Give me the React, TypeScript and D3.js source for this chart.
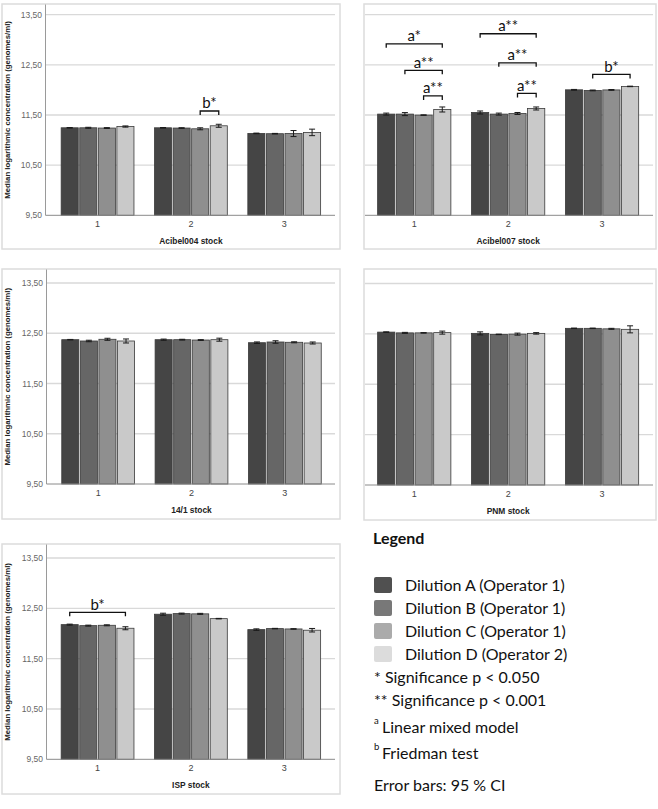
import React from 'react';
import * as d3 from 'd3';

// stocks, dilution series and values (log genomes/ml)
const groups = ['1', '2', '3'];
const seriesNames = [
  'Dilution A (Operator 1)',
  'Dilution B (Operator 1)',
  'Dilution C (Operator 1)',
  'Dilution D (Operator 2)',
];
const yTicks = [9.5, 10.5, 11.5, 12.5, 13.5];

const acibel004Values = [
  [11.245, 11.245, 11.24, 11.27],
  [11.245, 11.24, 11.225, 11.285],
  [11.133, 11.127, 11.13, 11.153],
];
const acibel004Errors = [
  [0.005, 0.01, 0.008, 0.012],
  [0.005, 0.006, 0.02, 0.03],
  [0.006, 0.006, 0.06, 0.065],
];
const acibel007Values = [
  [11.518, 11.518, 11.498, 11.61],
  [11.55, 11.518, 11.53, 11.63],
  [12.002, 11.99, 12.0, 12.07],
];
const acibel007Errors = [
  [0.02, 0.03, 0.005, 0.05],
  [0.03, 0.02, 0.02, 0.03],
  [0.008, 0.008, 0.008, 0.005],
];
const stock141Values = [
  [12.372, 12.346, 12.38, 12.346],
  [12.372, 12.372, 12.365, 12.372],
  [12.312, 12.326, 12.32, 12.306],
];
const stock141Errors = [
  [0.005, 0.015, 0.02, 0.04],
  [0.012, 0.008, 0.008, 0.03],
  [0.015, 0.025, 0.01, 0.02],
];
const pnmValues = [
  [12.535, 12.52, 12.52, 12.525],
  [12.51, 12.49, 12.495, 12.51],
  [12.61, 12.61, 12.6, 12.59],
];
const pnmErrors = [
  [0.005, 0.01, 0.005, 0.03],
  [0.03, 0.005, 0.02, 0.015],
  [0.005, 0.005, 0.01, 0.07],
];
const ispValues = [
  [12.176, 12.156, 12.163, 12.104],
  [12.383, 12.395, 12.39, 12.295],
  [12.077, 12.097, 12.09, 12.065],
];
const ispErrors = [
  [0.01, 0.01, 0.01, 0.03],
  [0.02, 0.01, 0.01, 0.005],
  [0.015, 0.005, 0.005, 0.035],
];

// significance brackets: group, first and last dilution, level (data units), label
const acibel004Brackets = [{ group: 1, from: 2, to: 3, level: 11.58, label: 'b*' }];
const acibel007Brackets = [
  { group: 0, from: 0, to: 3, level: 12.92, label: 'a*' },
  { group: 0, from: 1, to: 3, level: 12.39, label: 'a**' },
  { group: 0, from: 2, to: 3, level: 11.88, label: 'a**' },
  { group: 1, from: 0, to: 3, level: 13.12, label: 'a**' },
  { group: 1, from: 1, to: 3, level: 12.54, label: 'a**' },
  { group: 1, from: 2, to: 3, level: 11.93, label: 'a**' },
  { group: 2, from: 1, to: 3, level: 12.31, label: 'b*' },
];
const ispBrackets = [{ group: 0, from: 0, to: 3, level: 12.42, label: 'b*' }];

const barColors = ['#454545', '#666666', '#8f8f8f', '#c9c9c9'];
const swatchColors = ['#505050', '#787878', '#ababab', '#dcdcdc'];

const chartFont = '"Liberation Sans", Arial, sans-serif';
const noteFont = 'Lato, "Open Sans", sans-serif';

type Bracket = { group: number; from: number; to: number; level: number; label: string };

type PanelProps = {
  title: string;
  values: number[][];
  errors: number[][];
  brackets: Bracket[];
  frame: [number, number, number, number];
  axisX: number;
  plotRight: number;
  band: [number, number];
  yRange: [number, number]; // pixel of 9.5 and 13.5
  showYAxis: boolean;
};

const Panel = ({ title, values, errors, brackets, frame, axisX, plotRight, band, yRange, showYAxis }: PanelProps) => {
  const [fx0, fy0, fx1, fy1] = frame;
  const y = d3.scaleLinear().domain([9.5, 13.5]).range(yRange);
  const x = d3.scaleBand().domain(groups).range(band).paddingInner(0.22).paddingOuter(0.11);
  const xs = d3.scaleBand().domain(seriesNames).range([0, x.bandwidth()]).paddingInner(0.08);
  const base = y(9.5);
  const top = fy0 + 0.5;
  const barX = (g: number, s: number) => (x(groups[g]) as number) + (xs(seriesNames[s]) as number);
  const barMid = (g: number, s: number) => barX(g, s) + xs.bandwidth() / 2;

  return (
    <g>
      <rect x={fx0} y={fy0} width={fx1 - fx0} height={fy1 - fy0} fill="#fff" stroke="#dcdcdc" strokeWidth={1.5} />
      {yTicks.slice(1).map(t => (
        <line key={t} x1={showYAxis ? axisX : fx0 + 1} x2={plotRight} y1={y(t)} y2={y(t)} stroke="#d9d9d9" strokeWidth={1.3} />
      ))}
      {showYAxis && (
        <g>
          <line x1={axisX} x2={axisX} y1={top} y2={base} stroke="#9a9a9a" strokeWidth={1} />
          {yTicks.map(t => (
            <text key={t} x={axisX - 3.5} y={y(t) + 3} textAnchor="end" fontFamily={chartFont} fontSize={8.5} fill="#666">
              {d3.format('.2f')(t).replace('.', ',')}
            </text>
          ))}
          <text
            transform={`translate(${fx0 + 7.5},${(top + base) / 2}) rotate(-90)`}
            textAnchor="middle"
            fontFamily={chartFont}
            fontSize={7.8}
            fontWeight="bold"
            fill="#222"
          >
            Median logarithmic concentration (genomes/ml)
          </text>
        </g>
      )}
      {values.map((row, g) =>
        row.map((v, s) => (
          <rect
            key={`${g}-${s}`}
            x={barX(g, s)}
            y={y(v)}
            width={xs.bandwidth()}
            height={base - y(v)}
            fill={barColors[s]}
            stroke="#3a3a3a"
            strokeWidth={0.8}
          />
        ))
      )}
      {errors.map((row, g) =>
        row.map((e, s) => {
          const cx = barMid(g, s);
          const v = values[g][s];
          return (
            <g key={`e${g}-${s}`} stroke="#1a1a1a" strokeWidth={1}>
              <line x1={cx} x2={cx} y1={y(v + e)} y2={y(v - e)} />
              <line x1={cx - 3} x2={cx + 3} y1={y(v + e)} y2={y(v + e)} />
              <line x1={cx - 3} x2={cx + 3} y1={y(v - e)} y2={y(v - e)} />
            </g>
          );
        })
      )}
      <line x1={showYAxis ? axisX : fx0 + 1} x2={plotRight} y1={base} y2={base} stroke="#8a8a8a" strokeWidth={1} />
      {groups.map(gr => (
        <text
          key={gr}
          x={(x(gr) as number) + x.bandwidth() / 2}
          y={base + 12}
          textAnchor="middle"
          fontFamily={chartFont}
          fontSize={9}
          fill="#444"
        >
          {gr}
        </text>
      ))}
      <text
        x={(band[0] + band[1]) / 2}
        y={base + 28.5}
        textAnchor="middle"
        fontFamily={chartFont}
        fontSize={8.4}
        fontWeight="bold"
        fill="#222"
      >
        {title}
      </text>
      {brackets.map((b, i) => {
        const x1 = barMid(b.group, b.from);
        const x2 = barMid(b.group, b.to);
        const by = y(b.level);
        return (
          <g key={i}>
            <path d={`M${x1},${by + 4}V${by}H${x2}V${by + 4}`} fill="none" stroke="#111" strokeWidth={1.3} />
            <text x={(x1 + x2) / 2} y={by - 2.5} textAnchor="middle" fontFamily={noteFont} fontSize={15} fill="#111">
              {b.label}
            </text>
          </g>
        );
      })}
    </g>
  );
};

const Legend = () => {
  const lx = 374;
  return (
    <g fontFamily={noteFont} fill="#111">
      <text x={373} y={544} fontSize={16} fontWeight="bold">Legend</text>
      {seriesNames.map((n, i) => (
        <g key={n}>
          <rect x={lx} y={577 + i * 23} width={18} height={16} rx={2} fill={swatchColors[i]} />
          <text x={405} y={590.5 + i * 23} fontSize={16}>{n}</text>
        </g>
      ))}
      <text x={lx} y={682.5} fontSize={16}>* Significance p &lt; 0.050</text>
      <text x={lx} y={705.5} fontSize={16}>** Significance p &lt; 0.001</text>
      <text x={lx} y={724} fontSize={9.5}>a</text>
      <text x={lx + 8} y={732.5} fontSize={16}>Linear mixed model</text>
      <text x={lx} y={750} fontSize={9.5}>b</text>
      <text x={lx + 8} y={758.5} fontSize={16}>Friedman test</text>
      <text x={lx} y={790.5} fontSize={16}>Error bars: 95 % CI</text>
    </g>
  );
};

export default function App() {
  return (
    <div style={{ position: 'absolute', left: 0, top: 0 }}>
      <svg width={658} height={809} style={{ display: 'block', background: '#fff' }}>
        <Panel
          title="Acibel004 stock"
          values={acibel004Values}
          errors={acibel004Errors}
          brackets={acibel004Brackets}
          frame={[2, 4, 340, 249]}
          axisX={45.5}
          plotRight={335}
          band={[50.9, 330.9]}
          yRange={[215.3, 14.7]}
          showYAxis={true}
        />
        <Panel
          title="Acibel007 stock"
          values={acibel007Values}
          errors={acibel007Errors}
          brackets={acibel007Brackets}
          frame={[364, 4, 656, 249]}
          axisX={365}
          plotRight={653}
          band={[367.3, 649]}
          yRange={[215.3, 14.7]}
          showYAxis={false}
        />
        <Panel
          title="14/1 stock"
          values={stock141Values}
          errors={stock141Errors}
          brackets={[]}
          frame={[2, 269, 340, 519]}
          axisX={46.5}
          plotRight={335}
          band={[51.5, 331.5]}
          yRange={[484, 283]}
          showYAxis={true}
        />
        <Panel
          title="PNM stock"
          values={pnmValues}
          errors={pnmErrors}
          brackets={[]}
          frame={[364, 269, 656, 520]}
          axisX={365}
          plotRight={653}
          band={[367.3, 649]}
          yRange={[485, 283.5]}
          showYAxis={false}
        />
        <Panel
          title="ISP stock"
          values={ispValues}
          errors={ispErrors}
          brackets={ispBrackets}
          frame={[2, 544, 340, 794]}
          axisX={46.5}
          plotRight={335}
          band={[50.9, 330.9]}
          yRange={[759.3, 558]}
          showYAxis={true}
        />
        <Legend />
      </svg>
    </div>
  );
}
